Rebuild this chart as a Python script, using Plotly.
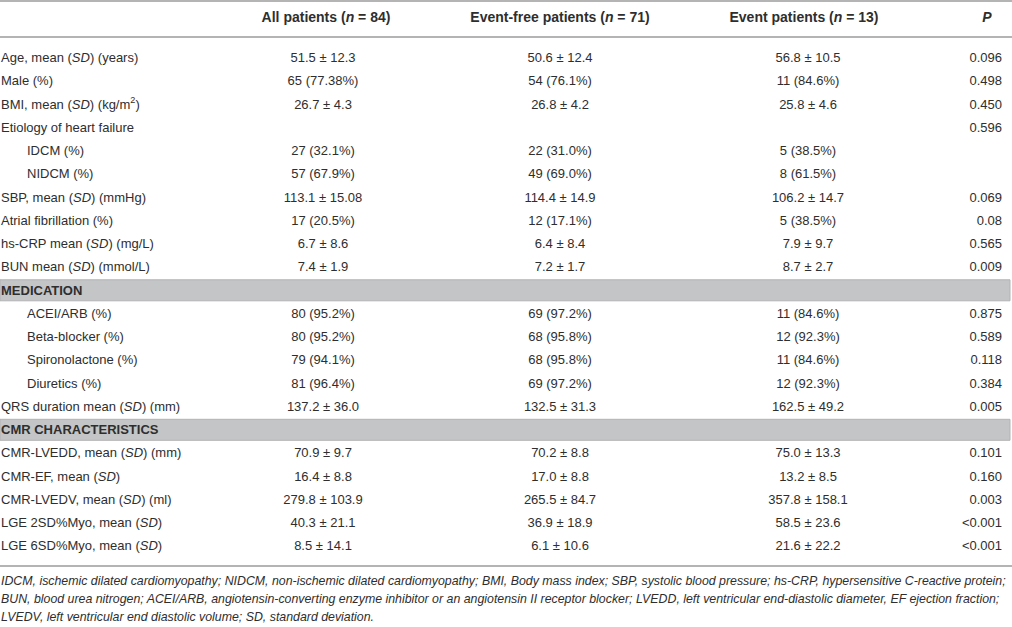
import plotly.graph_objects as go

# Table content
headers = ["", "All patients (<i>n</i> = 84)", "Event-free patients (<i>n</i> = 71)",
           "Event patients (<i>n</i> = 13)", "<i>P</i>"]

labels = ["Age, mean (<i>SD</i>) (years)", "Male (%)", "BMI, mean (<i>SD</i>) (kg/m<sup>2</sup>)",
          "Etiology of heart failure", "IDCM (%)", "NIDCM (%)", "SBP, mean (<i>SD</i>) (mmHg)",
          "Atrial fibrillation (%)", "hs-CRP mean (<i>SD</i>) (mg/L)", "BUN mean (<i>SD</i>) (mmol/L)",
          "MEDICATION", "ACEI/ARB (%)", "Beta-blocker (%)", "Spironolactone (%)", "Diuretics (%)",
          "QRS duration mean (<i>SD</i>) (mm)", "CMR CHARACTERISTICS",
          "CMR-LVEDD, mean (<i>SD</i>) (mm)", "CMR-EF, mean (<i>SD</i>)", "CMR-LVEDV, mean (<i>SD</i>) (ml)",
          "LGE 2SD%Myo, mean (<i>SD</i>)", "LGE 6SD%Myo, mean (<i>SD</i>)"]

all_patients = ["51.5 ± 12.3", "65 (77.38%)", "26.7 ± 4.3", "", "27 (32.1%)", "57 (67.9%)",
                "113.1 ± 15.08", "17 (20.5%)", "6.7 ± 8.6", "7.4 ± 1.9", "", "80 (95.2%)",
                "80 (95.2%)", "79 (94.1%)", "81 (96.4%)", "137.2 ± 36.0", "", "70.9 ± 9.7",
                "16.4 ± 8.8", "279.8 ± 103.9", "40.3 ± 21.1", "8.5 ± 14.1"]

event_free = ["50.6 ± 12.4", "54 (76.1%)", "26.8 ± 4.2", "", "22 (31.0%)", "49 (69.0%)",
              "114.4 ± 14.9", "12 (17.1%)", "6.4 ± 8.4", "7.2 ± 1.7", "", "69 (97.2%)",
              "68 (95.8%)", "68 (95.8%)", "69 (97.2%)", "132.5 ± 31.3", "", "70.2 ± 8.8",
              "17.0 ± 8.8", "265.5 ± 84.7", "36.9 ± 18.9", "6.1 ± 10.6"]

event_pts = ["56.8 ± 10.5", "11 (84.6%)", "25.8 ± 4.6", "", "5 (38.5%)", "8 (61.5%)",
             "106.2 ± 14.7", "5 (38.5%)", "7.9 ± 9.7", "8.7 ± 2.7", "", "11 (84.6%)",
             "12 (92.3%)", "11 (84.6%)", "12 (92.3%)", "162.5 ± 49.2", "", "75.0 ± 13.3",
             "13.2 ± 8.5", "357.8 ± 158.1", "58.5 ± 23.6", "21.6 ± 22.2"]

p_values = ["0.096", "0.498", "0.450", "0.596", "", "", "0.069", "0.08", "0.565", "0.009", "",
            "0.875", "0.589", "0.118", "0.384", "0.005", "", "0.101", "0.160", "0.003",
            "&lt;0.001", "&lt;0.001"]

indented = [4, 5, 11, 12, 13, 14]
sections = [10, 16]

footnotes = [
    "IDCM, ischemic dilated cardiomyopathy; NIDCM, non-ischemic dilated cardiomyopathy; BMI, Body mass index; "
    "SBP, systolic blood pressure; hs-CRP, hypersensitive C-reactive protein;",
    "BUN, blood urea nitrogen; ACEI/ARB, angiotensin-converting enzyme inhibitor or an angiotensin II receptor blocker; "
    "LVEDD, left ventricular end-diastolic diameter, EF ejection fraction;",
    "LVEDV, left ventricular end diastolic volume; SD, standard deviation.",
]

# layout in pixels
W, H = 1012, 627
row0, pitch = 58.8, 23.25
header_y = 18.5
col_x = [323, 560, 808]
p_x = 1002
txt = "#2e2e2e"
font_name = "Liberation Sans, Arial, sans-serif"
fs = 13

rows_y = [row0 + pitch * i for i in range(len(labels))]


def filled(xs, vals):
    # skip empty cells
    keep = [i for i, v in enumerate(vals) if v]
    return [xs[i] for i in keep], [rows_y[i] for i in keep], [vals[i] for i in keep]


fig = go.Figure()

# gray section bands
for s in sections:
    fig.add_shape(type="rect", x0=0, x1=1010, y0=rows_y[s] - 11.5, y1=rows_y[s] + 9.5,
                  fillcolor="#c4c5c7", line=dict(color="#b3b3b5", width=1), layer="below")

# horizontal rules
for yy in [1, 37, 566]:
    fig.add_shape(type="line", x0=0, x1=W, y0=yy, y1=yy, line=dict(color="#b4b4b4", width=2))

# label column
lab_text = ["<b>" + l + "</b>" if i in sections else l for i, l in enumerate(labels)]
lab_x = [27 if i in indented else 1 for i in range(len(labels))]
fig.add_trace(go.Scatter(x=lab_x, y=rows_y, text=lab_text, mode="text",
                         textposition="middle right", cliponaxis=False,
                         textfont=dict(family=font_name, size=fs, color=txt)))

# value columns
for cx, vals in zip(col_x, [all_patients, event_free, event_pts]):
    xs, ys, ts = filled([cx] * len(vals), vals)
    fig.add_trace(go.Scatter(x=xs, y=ys, text=ts, mode="text",
                             textposition="middle center", cliponaxis=False,
                             textfont=dict(family=font_name, size=fs, color=txt)))

xs, ys, ts = filled([p_x] * len(p_values), p_values)
fig.add_trace(go.Scatter(x=xs, y=ys, text=ts, mode="text",
                         textposition="middle left", cliponaxis=False,
                         textfont=dict(family=font_name, size=fs, color=txt)))

# header
head_x = [0, 326, 560, 804, 987]
fig.add_trace(go.Scatter(x=head_x[1:], y=[header_y] * 4, text=["<b>" + h + "</b>" for h in headers[1:]],
                         mode="text", textposition="middle center", cliponaxis=False,
                         textfont=dict(family=font_name, size=14, color=txt)))

# footnotes
foot_y = [582, 600, 618]
fig.add_trace(go.Scatter(x=[1] * len(footnotes), y=foot_y, text=["<i>" + f + "</i>" for f in footnotes],
                         mode="text", textposition="middle right", cliponaxis=False,
                         textfont=dict(family=font_name, size=12.35, color=txt)))

fig.update_layout(width=W, height=H, margin=dict(l=0, r=0, t=0, b=0),
                  plot_bgcolor="white", paper_bgcolor="white", showlegend=False,
                  hovermode=False)
fig.update_xaxes(range=[0, W], visible=False, fixedrange=True)
fig.update_yaxes(range=[H, 0], visible=False, fixedrange=True)

fig.write_html("out.html", config={"displayModeBar": False},
               post_script="document.body.style.margin='0';")
